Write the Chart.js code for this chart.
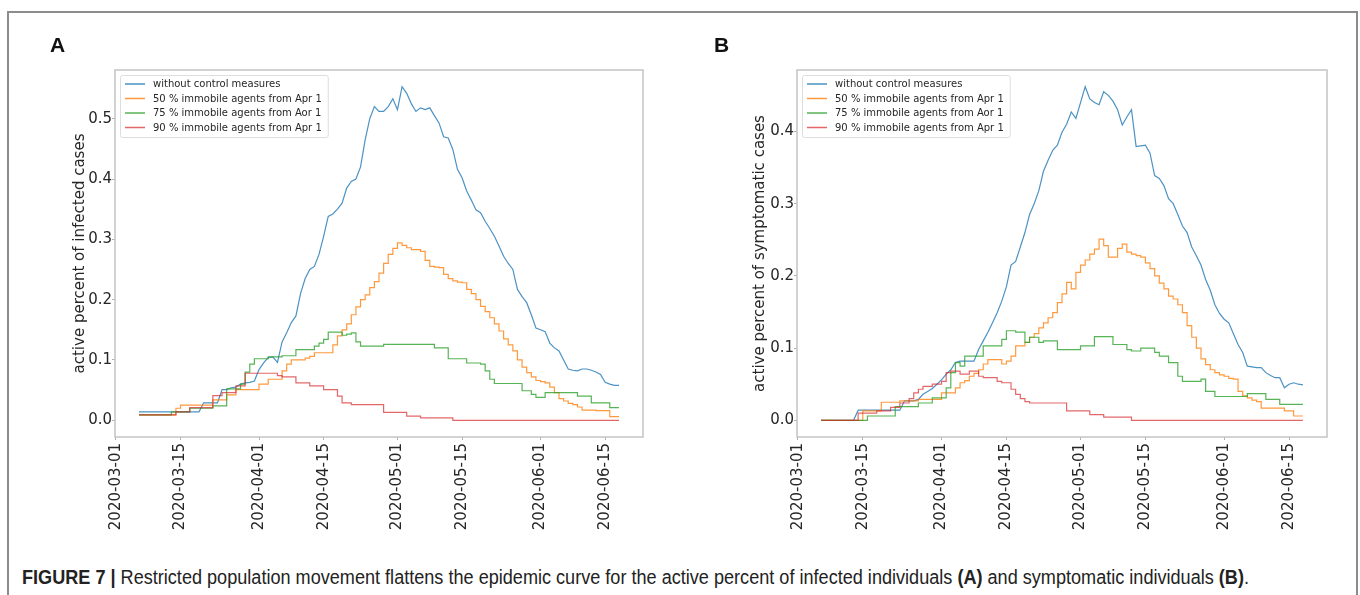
<!DOCTYPE html>
<html>
<head>
<meta charset="utf-8">
<script src="https://cdn.jsdelivr.net/npm/chart.js@4.4.1/dist/chart.umd.min.js"></script>
<style>
  html, body { margin: 0; padding: 0; background: #fff; }
  body { width: 1360px; height: 595px; position: relative; overflow: hidden; }
  #frame { position: absolute; left: 7px; top: 11px; width: 1347px; height: 600px; border: 2px solid #8c8c8c; border-bottom: none; }
  .panel { position: absolute; top: 0; width: 680px; height: 545px; }
  .letter { position: absolute; top: 34px; font: bold 21px "Liberation Sans", Arial, sans-serif; line-height: 21px; color: #111; }
  #caption { position: absolute; left: 22px; top: 567px; white-space: nowrap; color: #222; transform-origin: 0 0;
             font: 20px "Liberation Sans", Arial, sans-serif; line-height: 20px; }
</style>
</head>
<body>
<div id="frame"></div>
<div class="panel" style="left:0"><canvas id="chartA" width="680" height="545"></canvas></div>
<div class="panel" style="left:680px"><canvas id="chartB" width="680" height="545"></canvas></div>
<div class="letter" style="left:50px">A</div>
<div class="letter" style="left:714px">B</div>
<div id="caption"><b>FIGURE 7 |</b> Restricted population movement flattens the epidemic curve for the active percent of infected individuals <b>(A)</b> and symptomatic individuals <b>(B)</b>.</div>

<script>
/* Data, one value per day from the first simulated day */
const firstDate = '2020-03-06'
const seriesLabels = ['without control measures', '50 % immobile agents from Apr 1', '75 % immobile agents from Aor 1', '90 % immobile agents from Apr 1']
const dateTicks = ['2020-03-01', '2020-03-15', '2020-04-01', '2020-04-15', '2020-05-01', '2020-05-15', '2020-06-01', '2020-06-15']
const yTicksA = [0, 0.1, 0.2, 0.3, 0.4, 0.5]
const yTicksB = [0, 0.1, 0.2, 0.3, 0.4]

/* A: active percent of infected cases */
const infectedNone = [
  0.014,0.014,0.014,0.014,0.014,0.014,0.014,0.014,0.014,0.014,0.014,0.014,0.014,0.014,
  0.029,0.029,0.029,0.029,
  0.051,0.051,0.054,0.055,0.06,0.062,0.063,0.065,0.084,0.095,0.104,0.105,0.096,0.13,0.145,0.162,0.173,
  0.21,0.235,0.25,0.255,0.275,0.305,0.338,0.342,0.35,0.36,0.385,0.396,0.4,0.42,0.465,0.5,0.52,
  0.512,0.512,0.52,0.533,0.515,0.553,0.542,0.525,0.512,0.518,0.515,0.518,0.505,0.493,0.47,0.468,
  0.449,0.416,0.402,0.38,0.365,0.349,0.344,0.33,0.318,0.305,0.289,0.272,0.26,0.25,0.217,0.205,
  0.195,0.175,0.153,0.15,0.147,0.128,0.12,0.115,0.1,0.085,0.083,0.082,0.085,0.085,0.083,0.08,
  0.076,0.063,0.06,0.058,0.058
]
const infected50 = [
  0.009,0.009,0.009,0.009,0.009,0.009,0.009,0.009,
  0.02,
  0.025,0.025,0.025,0.025,0.025,0.025,0.025,
  0.034,0.034,0.034,
  0.042,0.042,
  0.051,0.051,0.051,0.051,0.051,
  0.06,0.06,
  0.068,0.068,0.068,
  0.082,0.093,0.1,0.1,0.1,0.103,0.106,0.112,0.112,0.112,0.112,
  0.125,0.14,0.15,0.16,0.175,0.188,0.2,0.208,0.22,0.23,0.244,0.26,0.275,0.285,0.294,0.29,0.286,
  0.283,0.283,0.28,0.265,0.255,0.254,0.253,0.242,0.235,0.231,0.229,0.228,0.217,0.21,0.2,0.189,
  0.18,0.17,0.16,0.148,0.135,0.125,0.115,0.1,0.088,0.079,0.072,0.066,0.064,0.062,0.055,0.046,
  0.036,0.032,0.028,0.026,0.022,
  0.017,0.017,0.017,0.016,0.016,0.016,
  0.006,0.006,0.006
]
const infected75 = [
  0.009,0.009,0.009,0.009,0.009,0.009,0.009,
  0.014,0.014,0.014,0.014,
  0.02,0.02,0.02,0.02,0.02,
  0.024,0.024,0.024,
  0.052,0.052,0.052,
  0.06,0.08,0.093,
  0.102,0.102,0.102,
  0.105,0.105,0.105,
  0.107,0.107,0.107,
  0.117,0.117,0.117,0.117,
  0.123,0.128,0.134,
  0.146,0.146,0.146,
  0.141,0.143,0.145,0.13,
  0.123,0.123,0.123,0.123,0.123,
  0.126,0.126,0.126,0.126,0.126,0.126,0.126,0.126,0.126,0.126,0.126,
  0.12,0.12,0.12,
  0.102,0.102,0.102,0.102,
  0.095,0.095,0.095,
  0.093,0.082,0.068,
  0.061,0.061,0.061,0.061,0.061,0.061,
  0.049,0.049,
  0.043,
  0.038,0.038,
  0.046,0.046,0.046,0.046,0.046,0.046,0.046,
  0.04,0.04,0.04,
  0.029,0.029,0.029,0.029,
  0.021,0.021,0.021
]
const infected90 = [
  0.009,0.009,0.009,0.009,0.009,0.009,0.009,0.009,
  0.014,0.014,0.014,
  0.021,0.021,0.021,0.021,0.021,
  0.041,0.041,
  0.046,0.046,0.046,
  0.057,0.057,
  0.078,0.078,0.078,0.078,0.078,0.078,0.078,
  0.074,
  0.072,0.072,0.072,
  0.062,0.062,0.062,
  0.057,0.057,0.057,
  0.051,0.051,0.051,
  0.04,
  0.029,0.029,
  0.026,0.026,0.026,0.026,0.026,0.026,0.026,
  0.013,0.013,0.013,0.013,0.013,
  0.007,0.007,0.007,
  0.004,0.004,0.004,0.004,0.004,0.004,0.004,
  0,0,0,0,0,0,0,0,0,0,0,0,0,0,0,0,0,0,0,0,0,0,0,0,0,0,0,0,0,0,0,0,0,0,0,0,0
]

/* B: active percent of symptomatic cases */
const symptomNone = [
  0,0,0,0,0,0,0,0,
  0.014,0.014,0.014,0.014,0.014,0.014,0.014,0.014,0.014,0.014,
  0.027,0.027,0.027,
  0.029,0.036,0.04,0.044,0.05,0.056,0.064,0.07,0.08,
  0.082,0.082,0.082,0.082,
  0.098,0.11,0.122,0.135,0.149,0.165,0.185,0.215,0.22,0.24,0.26,0.285,0.3,0.318,0.345,0.36,
  0.374,0.381,0.399,0.41,0.427,0.418,0.44,0.462,0.445,0.44,0.437,0.455,0.45,0.442,0.43,0.409,
  0.42,0.43,0.379,0.38,0.381,0.37,0.339,0.335,0.325,0.307,0.3,0.285,0.269,0.26,0.24,0.228,
  0.215,0.195,0.18,0.16,0.148,0.14,0.135,0.12,0.105,0.094,0.075,0.074,0.073,0.073,0.066,0.062,
  0.059,0.059,0.045,0.05,0.052,0.05,0.049
]
const symptom50 = [
  0,0,0,0,0,0,0,0,0,
  0.013,0.013,0.013,0.013,
  0.025,0.025,0.025,0.025,
  0.027,0.027,0.027,0.027,
  0.029,0.029,0.029,0.029,0.029,
  0.038,0.038,0.038,
  0.045,0.052,0.055,0.061,0.065,0.07,0.078,0.084,0.084,0.084,0.078,0.082,0.089,0.103,0.103,0.108,
  0.115,0.12,0.128,0.135,0.142,0.149,0.163,0.175,0.191,0.182,0.205,0.215,0.222,0.23,0.237,0.251,
  0.242,0.226,0.226,0.238,0.244,0.233,0.23,0.228,0.226,0.218,0.21,0.2,0.19,0.182,0.172,0.168,
  0.16,0.149,0.131,0.115,0.1,0.085,0.077,0.07,0.066,0.063,0.061,0.058,0.057,0.04,0.034,0.031,
  0.028,0.026,
  0.017,0.017,0.017,0.017,0.017,
  0.013,0.013,
  0.006,0.006,0.006
]
const symptom75 = [
  0,0,0,0,0,0,0,0,0,0,
  0.006,0.006,0.006,0.006,0.006,0.006,
  0.019,0.019,0.019,0.019,0.019,
  0.024,0.024,0.024,
  0.031,0.031,0.031,
  0.045,0.066,0.08,0.075,
  0.089,0.089,0.089,0.089,
  0.103,0.103,0.103,0.103,
  0.112,
  0.124,0.124,
  0.122,0.122,
  0.108,
  0.115,0.115,
  0.108,
  0.11,0.11,0.11,
  0.098,0.098,0.098,0.098,0.098,
  0.103,0.103,0.103,
  0.116,0.116,0.116,0.116,
  0.105,0.105,0.105,
  0.098,
  0.096,0.096,
  0.1,0.1,0.1,
  0.094,
  0.089,0.089,
  0.08,0.08,
  0.061,
  0.054,0.054,0.054,0.054,
  0.057,
  0.04,0.04,
  0.033,0.033,0.033,0.033,0.033,0.033,0.033,
  0.037,0.037,0.037,0.037,
  0.029,0.029,0.029,
  0.022,0.022,0.022,0.022,0.022,0.022
]
const symptom90 = [
  0,0,0,0,0,0,0,0,
  0.01,0.01,0.01,0.01,
  0.013,0.013,0.013,
  0.018,0.018,
  0.024,0.024,
  0.03,0.038,0.043,
  0.047,0.047,
  0.05,0.05,
  0.054,0.066,
  0.068,0.068,
  0.064,0.064,
  0.068,0.068,
  0.061,
  0.059,0.059,0.059,
  0.054,
  0.052,0.052,
  0.043,0.036,0.03,0.026,
  0.024,0.024,0.024,0.024,0.024,0.024,0.024,0.024,
  0.013,0.013,0.013,0.013,0.013,
  0.008,0.008,0.008,
  0.0045,0.0045,0.0045,0.0045,0.0045,0.0045,
  0,0,0,0,0,0,0,0,0,0,0,0,0,0,0,0,0,0,0,0,0,0,0,0,0,0,0,0,0,0,0,0,0,0,0,0,0,0
]

const lineColors = ['rgba(31,119,180,0.8)', 'rgba(255,127,14,0.8)', 'rgba(44,160,44,0.8)', 'rgba(214,39,40,0.7)']
// the steep curve reads smoother without steps
const lineSteps = [false, true, true, true]

/* days counted from 2020-03-01 */
function dayOf(date){
    return (Date.parse(date) - Date.parse('2020-03-01')) / 86400000
}

function toPoints(values){
    let start = dayOf(firstDate)
    return values.map((v, i) => ({x: start + i, y: v}))
}

/* frame round the plot area */
const plotFrame = {
    id: 'plotFrame',
    afterDatasetsDraw(chart){
        const {ctx, chartArea} = chart
        ctx.save()
        ctx.strokeStyle = '#c4c4c4'
        ctx.lineWidth = 1.5
        ctx.strokeRect(chartArea.left, chartArea.top, chartArea.right - chartArea.left, chartArea.bottom - chartArea.top)
        ctx.restore()
    }
}

/* matplotlib style legend in the upper left corner */
const boxLegend = {
    id: 'boxLegend',
    afterDraw(chart){
        const {ctx, chartArea} = chart
        const x0 = chartArea.left + 5, y0 = chartArea.top + 5
        const rowH = 14.5
        ctx.save()
        ctx.font = '10px "DejaVu Sans"'
        let textW = Math.max(...chart.data.datasets.map(d => ctx.measureText(d.label).width))
        let w = 33 + textW + 6, h = 62
        ctx.beginPath()
        ctx.roundRect(x0 + 0.5, y0 + 0.5, w, h, 2)
        ctx.fillStyle = 'rgba(255,255,255,0.85)'
        ctx.fill()
        ctx.strokeStyle = '#dddddd'
        ctx.lineWidth = 1
        ctx.stroke()
        chart.data.datasets.forEach((ds, i) => {
            let cy = y0 + 9 + i * rowH
            ctx.beginPath()
            ctx.moveTo(x0 + 5, cy)
            ctx.lineTo(x0 + 25, cy)
            ctx.strokeStyle = ds.borderColor
            ctx.lineWidth = 1.5
            ctx.stroke()
            ctx.fillStyle = '#262626'
            ctx.textBaseline = 'middle'
            ctx.textAlign = 'left'
            ctx.fillText(ds.label, x0 + 33, cy + 0.5)
        })
        ctx.restore()
    }
}

function makePanel(canvasId, series, yMin, yMax, yTicks, yTitle, axisWidth, rightPad){
    const tickFont = {family: 'DejaVu Sans', size: 15}
    return new Chart(document.getElementById(canvasId), {
        type: 'line',
        data: {
            datasets: series.map((values, i) => ({
                label: seriesLabels[i],
                data: toPoints(values),
                borderColor: lineColors[i],
                backgroundColor: lineColors[i],
                borderWidth: 1.2,
                pointRadius: 0,
                stepped: lineSteps[i],
                fill: false,
                order: 4 - i
            }))
        },
        options: {
            responsive: false,
            animation: false,
            events: [],
            layout: {padding: {left: 0, top: 70, right: rightPad, bottom: 0}},
            plugins: {legend: {display: false}, tooltip: {enabled: false}},
            scales: {
                x: {
                    type: 'linear',
                    min: -0.2,
                    max: 114.2,
                    afterBuildTicks: scale => { scale.ticks = dateTicks.map(d => ({value: dayOf(d)})) },
                    afterFit: scale => { scale.height = 108 },
                    ticks: {
                        autoSkip: false, minRotation: 90, maxRotation: 90, padding: 3,
                        font: tickFont, color: '#262626',
                        callback: (value, index) => dateTicks[index]
                    },
                    grid: {drawOnChartArea: false, drawTicks: true, tickLength: 3, color: '#b0b0b0'},
                    border: {display: false}
                },
                y: {
                    min: yMin,
                    max: yMax,
                    afterBuildTicks: scale => { scale.ticks = yTicks.map(v => ({value: v})) },
                    afterFit: scale => { scale.width = axisWidth },
                    ticks: {
                        padding: 0, font: tickFont, color: '#262626',
                        callback: value => value.toFixed(1)
                    },
                    grid: {drawOnChartArea: false, drawTicks: true, tickLength: 3, color: '#b0b0b0'},
                    border: {display: false},
                    title: {
                        display: true, text: yTitle, color: '#262626',
                        font: {family: 'DejaVu Sans', size: 15},
                        padding: {top: 71, bottom: 0}
                    }
                }
            }
        },
        plugins: [plotFrame, boxLegend]
    })
}

const chartA = makePanel('chartA', [infectedNone, infected50, infected75, infected90],
    -0.0277, 0.5807, yTicksA, 'active percent of infected cases', 115, 37)
const chartB = makePanel('chartB', [symptomNone, symptom50, symptom75, symptom90],
    -0.0231, 0.4851, yTicksB, 'active percent of symptomatic cases', 117, 33)

/* the caption in the figure is set in a condensed face, squeeze ours to the same length */
const caption = document.getElementById('caption')
caption.style.transform = `scaleX(${1227 / caption.getBoundingClientRect().width})`
</script>
</body>
</html>
